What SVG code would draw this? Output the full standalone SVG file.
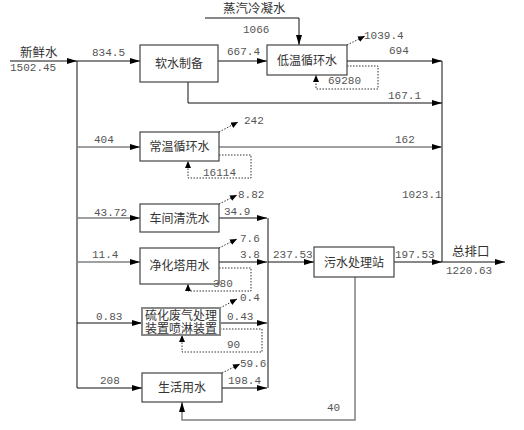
<svg xmlns="http://www.w3.org/2000/svg" width="524" height="430" viewBox="0 0 524 430">
<style>
.bg{fill:#fff}
.box rect{fill:#fff;stroke:#444;stroke-width:1.2}
.box text{font-family:"Liberation Serif","Noto Sans CJK SC",serif;font-size:12px;fill:#333;text-anchor:middle}
.ln{stroke:#111;stroke-width:1;fill:none}
.gl{stroke:#808080;stroke-width:1.5;fill:none}
.dt{stroke:#333;stroke-width:1;stroke-dasharray:1.5 1.5;fill:none}
.n{font-family:"Liberation Mono",monospace;font-size:11px;fill:#555}
.c{font-family:"Liberation Serif","Noto Sans CJK SC",serif;font-size:12.5px;fill:#333}
</style>
<defs>
<marker id="a" viewBox="0 0 10 6" refX="10" refY="3" markerWidth="10" markerHeight="6" orient="auto" markerUnits="userSpaceOnUse"><path d="M0,0 L10,3 L0,6 z" fill="#000"/></marker>
<marker id="s" viewBox="0 0 7 6" refX="7" refY="3" markerWidth="7" markerHeight="6" orient="auto" markerUnits="userSpaceOnUse"><path d="M0,0 L7,3 L0,6 z" fill="#000"/></marker>
</defs>
<rect class="bg" width="524" height="430"/>
<g id="connectors">
<path class="ln" d="M10,61 H77" marker-end="url(#a)"/>
<path class="ln" d="M77,61 V388"/>
<path class="ln" d="M77,61 H140" marker-end="url(#a)"/>
<path class="ln" d="M218,61 H267" marker-end="url(#a)"/>
<path class="ln" d="M205,18 H299 V45" marker-end="url(#a)"/>
<path class="dt" d="M347,45 L365,36" marker-end="url(#s)"/>
<path class="ln" d="M347,61 H442" marker-end="url(#a)"/>
<path class="dt" d="M347,66 H378 V89 H316 V75" marker-end="url(#s)"/>
<path class="ln" d="M188,82 V103 H442" marker-end="url(#a)"/>
<path class="ln" d="M442,61 V262"/>
<path class="gl" d="M77,147 H140" marker-end="url(#a)"/>
<path class="dt" d="M219,132 L238,122" marker-end="url(#s)"/>
<path class="gl" d="M219,147 H442" marker-end="url(#a)"/>
<path class="dt" d="M219,155 H251 V178 H188 V161" marker-end="url(#s)"/>
<path class="gl" d="M77,218 H140" marker-end="url(#a)"/>
<path class="dt" d="M219,204 L237,195" marker-end="url(#s)"/>
<path class="ln" d="M219,218 H267" marker-end="url(#a)"/>
<path class="ln" d="M268,218 V388"/>
<path class="gl" d="M77,262 H140" marker-end="url(#a)"/>
<path class="dt" d="M219,248 L237,239" marker-end="url(#s)"/>
<path class="ln" d="M219,262 H267" marker-end="url(#a)"/>
<path class="dt" d="M219,268 H251 V291 H188 V284" marker-end="url(#s)"/>
<path class="ln" d="M77,323 H142" marker-end="url(#a)"/>
<path class="dt" d="M220,308 L237,299" marker-end="url(#s)"/>
<path class="ln" d="M220,323 H267" marker-end="url(#a)"/>
<path class="dt" d="M220,329 H262 V352 H182 V335" marker-end="url(#s)"/>
<path class="ln" d="M77,388 H142" marker-end="url(#a)"/>
<path class="dt" d="M222,373 L240,364" marker-end="url(#s)"/>
<path class="ln" d="M222,388 H267" marker-end="url(#a)"/>
<path class="ln" d="M268,262 H314" marker-end="url(#a)"/>
<path class="ln" d="M394,262 H442" marker-end="url(#a)"/>
<path class="ln" d="M442,262 H505" marker-end="url(#a)"/>
<path class="gl" d="M355,277 V420 H182 V402" marker-end="url(#a)"/>
</g>
<g id="node-soft" class="box"><rect x="140" y="45" width="78" height="37"/><text x="179" y="67.5">软水制备</text></g>
<g id="node-lowtemp" class="box"><rect x="267" y="45" width="80" height="30"/><text x="307" y="64.5">低温循环水</text></g>
<g id="node-normtemp" class="box"><rect x="140" y="132" width="79" height="29"/><text x="179.5" y="151">常温循环水</text></g>
<g id="node-workshop" class="box"><rect x="140" y="204" width="79" height="28"/><text x="179.5" y="222.5">车间清洗水</text></g>
<g id="node-purify" class="box"><rect x="140" y="248" width="79" height="36"/><text x="179.5" y="270">净化塔用水</text></g>
<g id="node-sulfide" class="box"><rect x="142" y="308" width="78" height="27" style="stroke:#888;stroke-width:2"/><text x="181" y="320">硫化废气处理</text><text x="181" y="333">装置喷淋装置</text></g>
<g id="node-domestic" class="box"><rect x="142" y="373" width="80" height="29"/><text x="182" y="392">生活用水</text></g>
<g id="node-sewage" class="box"><rect x="314" y="247" width="80" height="30"/><text x="354" y="266.5">污水处理站</text></g>
<g id="labels">
<text class="c" x="223" y="13">蒸汽冷凝水</text>
<text class="c" x="20" y="57">新鲜水</text>
<text class="c" x="452" y="256">总排口</text>
<text class="n" x="243" y="33">1066</text>
<text class="n" x="10" y="71">1502.45</text>
<text class="n" x="92" y="56">834.5</text>
<text class="n" x="227" y="55">667.4</text>
<text class="n" x="364" y="39">1039.4</text>
<text class="n" x="389" y="54">694</text>
<text class="n" x="328" y="84">69280</text>
<text class="n" x="388" y="99">167.1</text>
<text class="n" x="244" y="124">242</text>
<text class="n" x="94" y="143">404</text>
<text class="n" x="395" y="143">162</text>
<text class="n" x="203" y="176">16114</text>
<text class="n" x="402" y="198">1023.1</text>
<text class="n" x="238" y="198">8.82</text>
<text class="n" x="94" y="216">43.72</text>
<text class="n" x="224" y="215">34.9</text>
<text class="n" x="240" y="242">7.6</text>
<text class="n" x="92" y="258">11.4</text>
<text class="n" x="240" y="258">3.8</text>
<text class="n" x="273" y="258">237.53</text>
<text class="n" x="395" y="258">197.53</text>
<text class="n" x="446" y="274">1220.63</text>
<text class="n" x="213" y="287">380</text>
<text class="n" x="240" y="301">0.4</text>
<text class="n" x="96" y="320">0.83</text>
<text class="n" x="227" y="320">0.43</text>
<text class="n" x="227" y="348">90</text>
<text class="n" x="240" y="367">59.6</text>
<text class="n" x="100" y="384">208</text>
<text class="n" x="228" y="384">198.4</text>
<text class="n" x="327" y="411">40</text>
</g>
</svg>
